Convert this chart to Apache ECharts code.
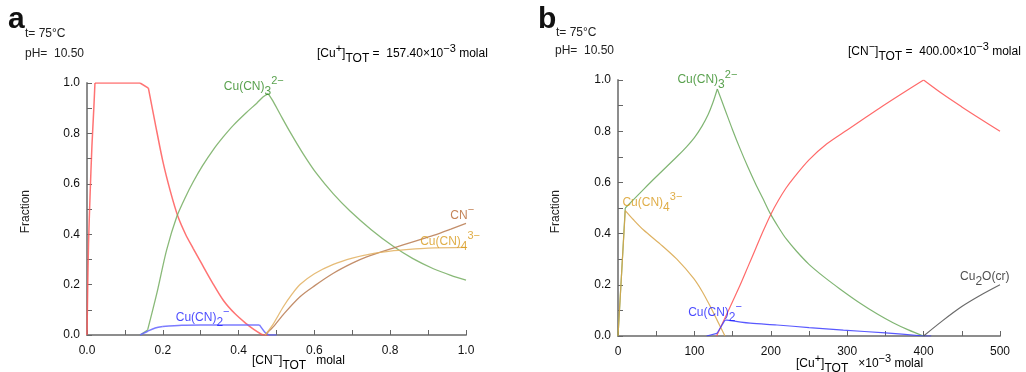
<!DOCTYPE html>
<html>
<head>
<meta charset="utf-8">
<script src="https://cdn.jsdelivr.net/npm/echarts@6/dist/echarts.min.js"></script>
<style>
  html, body { margin: 0; padding: 0; background: #fff; }
  #chart { width: 1026px; height: 372px; }
</style>
</head>
<body>
<div id="chart"></div>
<script>
// ---- Panel a: speciation vs total cyanide, [Cu+]TOT fixed (x in molal) ----
const cucnA = [[0,0],[0.002,0.2],[0.004,0.36],[0.008,0.55],[0.013,0.75],[0.018,0.9],[0.021,1.0],[0.14,1.0],[0.162,0.98],[0.18,0.84],[0.2,0.69],[0.22,0.57],[0.24,0.47],[0.26,0.4],[0.28,0.344],[0.3,0.29],[0.33,0.21],[0.36,0.137],[0.39,0.085],[0.42,0.045],[0.44,0.022],[0.46,0.003],[0.465,0],[0.48,0]];
const cucn3A = [[0.14,0],[0.16,0.02],[0.185,0.17],[0.21,0.337],[0.237,0.47],[0.26,0.548],[0.28,0.607],[0.305,0.672],[0.333,0.735],[0.36,0.787],[0.386,0.832],[0.42,0.882],[0.448,0.92],[0.465,0.945],[0.478,0.958],[0.49,0.93],[0.51,0.875],[0.536,0.805],[0.57,0.72],[0.606,0.64],[0.65,0.56],[0.694,0.492],[0.75,0.418],[0.808,0.352],[0.86,0.303],[0.914,0.263],[0.96,0.237],[1.0,0.218]];
const cucn2A = [[0.14,0],[0.16,0.015],[0.18,0.028],[0.2,0.034],[0.25,0.039],[0.3,0.04],[0.4,0.04],[0.455,0.04],[0.47,0.01],[0.48,0],[0.5,0]];
const cnA = [[0.47,0],[0.49,0.03],[0.52,0.085],[0.562,0.152],[0.6,0.195],[0.65,0.245],[0.7,0.285],[0.738,0.31],[0.808,0.345],[0.86,0.37],[0.914,0.395],[0.96,0.42],[1.0,0.443]];
const cucn4A = [[0.47,0],[0.49,0.04],[0.518,0.112],[0.54,0.16],[0.562,0.2],[0.6,0.243],[0.65,0.28],[0.7,0.305],[0.75,0.322],[0.8,0.333],[0.85,0.34],[0.9,0.345],[1.0,0.348]];

// ---- Panel b: speciation vs total copper, [CN-]TOT fixed (x in 10^-3 molal) ----
const cucn3B = [[0,0],[5,0.26],[9.5,0.5],[20,0.532],[33.5,0.573],[50,0.622],[77,0.7],[90,0.74],[100,0.775],[110,0.82],[118,0.865],[124,0.91],[130,0.965],[140,0.885],[150,0.805],[160,0.73],[170,0.66],[180,0.595],[190,0.535],[199,0.48],[210,0.425],[220,0.38],[234,0.33],[250,0.28],[270,0.23],[290,0.185],[317,0.128],[340,0.085],[360,0.052],[380,0.024],[400,0]];
const cucn4B = [[0,0],[5,0.26],[9.5,0.49],[20,0.455],[33.5,0.414],[55,0.36],[77,0.3],[99,0.225],[110,0.175],[120,0.12],[130,0.06],[140,0]];
const cucnB = [[129,0],[140,0.07],[150,0.135],[160,0.2],[170,0.27],[180,0.34],[190,0.41],[200,0.475],[210,0.53],[220,0.578],[230,0.618],[250,0.688],[273,0.75],[300,0.805],[325,0.855],[350,0.905],[375,0.953],[400,1.0],[425,0.945],[450,0.895],[475,0.847],[500,0.8]];
const cucn2B = [[116,0],[129.5,0.01],[140,0.062],[142.6,0.062],[173,0.05],[208,0.043],[250,0.033],[295,0.023],[350,0.012],[400,0],[410,0]];
const cu2oB = [[400,0],[425,0.06],[450,0.115],[475,0.16],[500,0.2]];

// Tick values
const xTicksA = { min: 0, max: 1, interval: 0.2 };
const xTicksB = { min: 0, max: 500, interval: 100 };
const yTicks = { min: 0, max: 1, interval: 0.2 };

// Species label anchors (data coordinates) and their texts
const labelsA = [
  { x: 0.125, y: 1.03, text: '{m|CuCN(s)}', color: '#ff1a1a' },
  { x: 0.44, y: 0.985, text: '{m|Cu(CN)}{s|3}{p|2−}', color: '#2f8a22' },
  { x: 0.99, y: 0.475, text: '{m|CN}{p|−}', color: '#b5652e' },
  { x: 0.958, y: 0.37, text: '{m|Cu(CN)}{s|4}{p|3−}', color: '#d89a1c' },
  { x: 0.305, y: 0.07, text: '{m|Cu(CN)}{s|2}{p|−}', color: '#1a1aff' }
];
const labelsB = [
  { x: 117, y: 1.0, text: '{m|Cu(CN)}{s|3}{p|2−}', color: '#2f8a22' },
  { x: 398, y: 1.04, text: '{m|CuCN(s)}', color: '#ff1a1a' },
  { x: 45, y: 0.52, text: '{m|Cu(CN)}{s|4}{p|3−}', color: '#d89a1c' },
  { x: 127, y: 0.09, text: '{m|Cu(CN)}{s|2}{p|−}', color: '#1a1aff' },
  { x: 480, y: 0.23, text: '{m|Cu}{s|2}{m|O(cr)}', color: '#222222' }
];

// x values where a curve has a corner (kept sharp, smoothed between them)
const kinks = {
  cucnA: [0.021, 0.14, 0.162, 0.465],
  cucn3A: [0.16, 0.478],
  cucn2A: [0.2, 0.455, 0.48],
  cucn3B: [9.5, 130],
  cucn4B: [9.5],
  cucnB: [400],
  cucn2B: [129.5, 140, 142.6, 400]
};

const FONT = "'Liberation Sans', Arial, sans-serif";
const rich = {
  m: { fontSize: 12, lineHeight: 22, verticalAlign: 'middle', fontFamily: FONT },
  s: { fontSize: 12, lineHeight: 12, verticalAlign: 'bottom', fontFamily: FONT },
  p: { fontSize: 11, lineHeight: 10, verticalAlign: 'top', fontFamily: FONT }
};
function richWith(color) {
  const r = {};
  Object.keys(rich).forEach(k => { r[k] = Object.assign({}, rich[k], { color: color }); });
  return r;
}

const axisLine = { lineStyle: { color: '#8d8d8d', width: 2 } };
const axisTick = { inside: true, length: 5, lineStyle: { color: '#666', width: 1 } };
const minorTick = { show: true, splitNumber: 2, length: 5, lineStyle: { color: '#666', width: 1 } };
const axisLabel = { color: '#111', fontSize: 12, fontFamily: FONT };

function xAxis(grid, ticks, fmt) {
  return {
    type: 'value', gridIndex: grid, min: ticks.min, max: ticks.max, interval: ticks.interval,
    axisLine, axisTick, minorTick, splitLine: { show: false },
    axisLabel: Object.assign({}, axisLabel, { margin: 10, formatter: fmt })
  };
}
function yAxis(grid) {
  return {
    type: 'value', gridIndex: grid, min: yTicks.min, max: yTicks.max, interval: yTicks.interval,
    axisLine, axisTick, minorTick, splitLine: { show: false },
    axisLabel: Object.assign({}, axisLabel, { margin: 7, formatter: v => v.toFixed(1) })
  };
}

// Split a curve at its corner points; each piece is smoothed on its own.
function pieces(data, breaks) {
  const out = [];
  let cur = [];
  data.forEach(p => {
    cur.push(p);
    if ((breaks || []).indexOf(p[0]) >= 0 && cur.length > 1) {
      out.push(cur);
      cur = [p];
    }
  });
  if (cur.length > 1) out.push(cur);
  return out;
}
function curve(data, breaks, color, xi, width) {
  return pieces(data, breaks).map(seg => ({
    type: 'line', xAxisIndex: xi, yAxisIndex: xi, data: seg, showSymbol: false,
    smooth: seg.length > 2 ? 0.3 : false,
    lineStyle: { color: color, width: width, opacity: 0.85 }, silent: true, z: 3
  }));
}
function labelSeries(items, xi) {
  return {
    type: 'scatter', xAxisIndex: xi, yAxisIndex: xi, symbolSize: 1, silent: true, z: 5,
    itemStyle: { color: 'rgba(0,0,0,0)' },
    data: items.map(it => ({
      value: [it.x, it.y],
      label: { show: true, position: 'inside', formatter: it.text, rich: richWith(it.color) }
    }))
  };
}

const chart = echarts.init(document.getElementById('chart'), null, { renderer: 'canvas' });
chart.setOption({
  animation: false,
  backgroundColor: '#ffffff',
  grid: [
    { left: 87, top: 83, width: 379, height: 252 },
    { left: 618, top: 80, width: 382, height: 256 }
  ],
  xAxis: [
    xAxis(0, xTicksA, v => v.toFixed(1)),
    xAxis(1, xTicksB, v => String(Math.round(v)))
  ],
  yAxis: [yAxis(0), yAxis(1)],
  series: [].concat(
    curve(cucnA, kinks.cucnA, '#ff5a5a', 0, 1.5),
    curve(cucn3A, kinks.cucn3A, '#74ad60', 0, 1.3),
    curve(cucn2A, kinks.cucn2A, '#6464ff', 0, 1.5),
    curve(cnA, null, '#b87a50', 0, 1.3),
    curve(cucn4A, null, '#e2b060', 0, 1.3),
    [labelSeries(labelsA, 0)],
    curve(cucn3B, kinks.cucn3B, '#6aa85a', 1, 1.2),
    curve(cucn4B, kinks.cucn4B, '#d8a448', 1, 1.2),
    curve(cucnB, kinks.cucnB, '#ff5050', 1, 1.2),
    curve(cucn2B, kinks.cucn2B, '#3c3cff', 1, 1.2),
    curve(cu2oB, null, '#505050', 1, 1.2),
    [labelSeries(labelsB, 1)]
  ),
  graphic: [
    { type: 'text', left: 8, top: 5, style: { text: 'a', fill: '#111', font: 'bold 30px ' + FONT } },
    { type: 'text', left: 25, top: 28, style: { text: 't= 75°C', fill: '#222', font: '12px ' + FONT } },
    { type: 'text', left: 25, top: 48, style: { text: 'pH=  10.50', fill: '#222', font: '12px ' + FONT } },
    { type: 'text', left: 317, top: 43, style: { text: '{m|[Cu}{p|+}{m|]}{s|TOT}{m| =  157.40×10}{p|−3}{m| molal}', rich: richWith('#222') } },

    { type: 'text', left: 538, top: 5, style: { text: 'b', fill: '#111', font: 'bold 30px ' + FONT } },
    { type: 'text', left: 556, top: 27, style: { text: 't= 75°C', fill: '#222', font: '12px ' + FONT } },
    { type: 'text', left: 555, top: 45, style: { text: 'pH=  10.50', fill: '#222', font: '12px ' + FONT } },
    { type: 'text', left: 848, top: 41, style: { text: '{m|[CN}{p|−}{m|]}{s|TOT}{m| =  400.00×10}{p|−3}{m| molal}', rich: richWith('#222') } },

    { type: 'text', left: 20, top: 190, rotation: Math.PI / 2, style: { text: 'Fraction', fill: '#222', font: '12px ' + FONT } },
    { type: 'text', left: 550, top: 190, rotation: Math.PI / 2, style: { text: 'Fraction', fill: '#222', font: '12px ' + FONT } },

    { type: 'text', left: 252, top: 350, style: { text: '{m|[CN}{p|−}{m|]}{s|TOT}{m|   molal}', rich: richWith('#222') } },
    { type: 'text', left: 796, top: 353, style: { text: '{m|[Cu}{p|+}{m|]}{s|TOT}{m|   ×10}{p|−3}{m| molal}', rich: richWith('#222') } }
  ]
});
</script>
</body>
</html>
